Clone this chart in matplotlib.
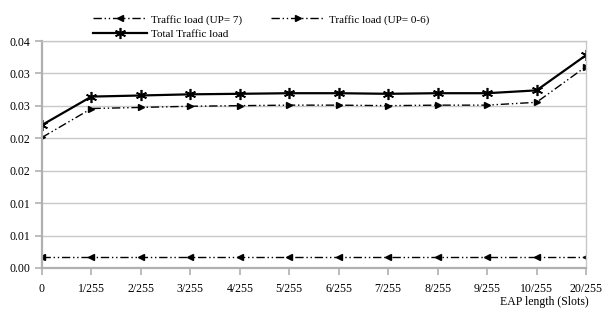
"""Traffic load vs EAP length (reference recreation)."""

import matplotlib

matplotlib.use("Agg")
import matplotlib.pyplot as plt

eap_labels = ["0", "1/255", "2/255", "3/255", "4/255", "5/255", "6/255",
              "7/255", "8/255", "9/255", "10/255", "20/255"]
load_up7 = [0.00166, 0.00166, 0.00166, 0.00166, 0.00166, 0.00166, 0.00166,
            0.00166, 0.00166, 0.00166, 0.00166, 0.00166]
load_up06 = [0.02013, 0.02459, 0.02476, 0.02494, 0.02503, 0.02511, 0.02511,
             0.02503, 0.02511, 0.02511, 0.02555, 0.03106]
load_total = [0.02205, 0.02643, 0.02660, 0.02678, 0.02686, 0.02695, 0.02695,
              0.02686, 0.02695, 0.02695, 0.02739, 0.03281]
y_ticks = [0.0, 0.005, 0.01, 0.015, 0.02, 0.025, 0.03, 0.035]
y_tick_labels = ["0.00", "0.01", "0.01", "0.02", "0.02", "0.03", "0.03", "0.04"]

plt.rcParams["font.family"] = ["Liberation Serif", "DejaVu Serif"]
plt.rcParams["font.size"] = 8.5

fig = plt.figure(figsize=(6.13, 3.14), dpi=100)
ax = fig.add_axes([0.0685, 0.1465, 0.8875, 0.7229])

x = range(len(eap_labels))
star = (6, 2, 0)
l7, = ax.plot(x, load_up7, color="black", lw=1.0, ls=(0, (6, 2, 1, 2, 1, 2)),
              marker="<", ms=5, label="Traffic load (UP= 7)")
l06, = ax.plot(x, load_up06, color="black", lw=1.0, ls=(0, (6, 2, 1, 2, 1, 2)),
               marker=">", ms=5, label="Traffic load (UP= 0-6)")
lt, = ax.plot(x, load_total, color="black", lw=1.6, ls="-",
              marker=star, ms=8, mew=1.2, label="Total Traffic load")

ax.set_xlim(0, len(eap_labels) - 1)
ax.set_ylim(0, 0.035)
ax.set_xticks(list(x))
ax.set_xticklabels(eap_labels)
ax.set_yticks(y_ticks)
ax.set_yticklabels(y_tick_labels)
ax.yaxis.grid(True, color="#c8c8c8", lw=1.0)
ax.set_axisbelow(True)

for side in ["left", "bottom"]:
    ax.spines[side].set_color("#b0b0b0")
    ax.spines[side].set_linewidth(1.6)
for side in ["top", "right"]:
    ax.spines[side].set_color("#c8c8c8")
    ax.spines[side].set_linewidth(1.0)
ax.tick_params(axis="both", colors="#b0b0b0", labelcolor="black", length=5, width=1.2)
ax.tick_params(axis="x", pad=6)

ax.legend(handles=[l7, lt, l06], ncol=2, frameon=False, loc="upper left",
          bbox_to_anchor=(0.145, 0.968), bbox_transform=fig.transFigure,
          fontsize=8, handlelength=4.8, columnspacing=2.6, labelspacing=0.45,
          handletextpad=0.4, borderaxespad=0.0)

fig.text(0.888, 0.018, "EAP length (Slots)", ha="center", va="bottom")

fig.savefig("out.png", dpi=100)
